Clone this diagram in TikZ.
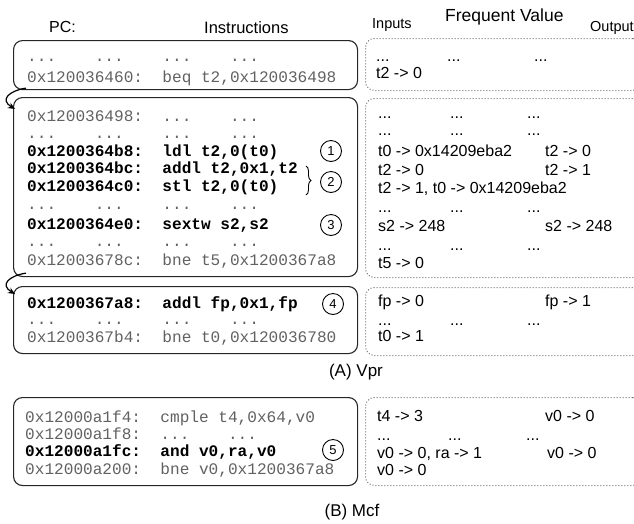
\documentclass[tikz,border=0pt]{standalone}
\usepackage{fontspec}
\setmainfont{Liberation Sans}
\newfontfamily\codefont{Liberation Mono}
\usetikzlibrary{arrows.meta,positioning,calc,decorations.pathreplacing}

\tikzset{
  pcbox/.style={draw=black!85, line width=1.1pt, rounded corners=9pt, minimum width=344pt, anchor=north west, inner sep=0pt},
  fvbox/.style={draw=black!55, dotted, line width=1pt, rounded corners=9pt, minimum width=276pt, anchor=north west, inner sep=0pt},
  instr/.style={anchor=base west, inner sep=0pt, text=black!62, font=\codefont\fontsize{16.1}{18}\selectfont},
  hot/.style={instr, text=black, font=\codefont\bfseries\fontsize{16.1}{18}\selectfont},
  fv/.style={anchor=base west, inner sep=0pt, font=\fontsize{16}{18}\selectfont},
  head/.style={anchor=base west, inner sep=0pt, font=\fontsize{#1}{20}\selectfont},
  tag/.style={draw, circle, minimum size=21pt, inner sep=0pt, line width=0.9pt, font=\fontsize{13}{14}\selectfont},
  jump/.style={-{Stealth[length=7pt,width=6pt]}, line width=1.2pt},
  caption/.style={anchor=base, inner sep=0pt, font=\fontsize{17}{20}\selectfont},
}

\begin{document}
\begin{tikzpicture}[x=1pt, y=-1pt]
    \useasboundingbox (0,0) rectangle (634,523);

    % column heads
    \node[head=16] (hpc) at (49,32) {PC:};
    \node[head=16.5] (hins) at (204,33) {Instructions};
    \node[head=17.5] (hfv) at (445,21) {Frequent Value};
    \node[head=14.5] (hin) at (372,28) {Inputs};
    \node[head=14.5] (hout) at (590,31) {Output};

    % boxes
    \node[pcbox, minimum height=49pt] (pc1) at (13,40) {};
    \node[pcbox, minimum height=179pt] (pc2) at (13,97) {};
    \node[pcbox, minimum height=67pt] (pc3) at (13,286) {};
    \node[pcbox, minimum height=88pt] (pc4) at (13,397) {};
    \node[fvbox, minimum height=52pt] (fv1) at (365,38) {};
    \node[fvbox, minimum height=179pt] (fv2) at (365,98) {};
    \node[fvbox, minimum height=68pt] (fv3) at (365,287) {};
    \node[fvbox, minimum height=88pt] (fv4) at (365,397) {};

    % (A) Vpr, code
    \node[instr] (a1) at (27,61) {...~~~~...~~~~...~~~~...};
    \node[instr] (a2) at (27,82.5) {0x120036460:~~beq t2,0x120036498};

    \node[instr] (b1) at (27,121) {0x120036498:~~...~~~~...};
    \node[instr] (b2) at (27,138) {...~~~~...~~~~...~~~~...};
    \node[hot] (b3) at (27,156) {0x1200364b8:~~ldl t2,0(t0)};
    \node[hot] (b4) at (27,173) {0x1200364bc:~~addl t2,0x1,t2};
    \node[hot] (b5) at (27,191) {0x1200364c0:~~stl t2,0(t0)};
    \node[instr] (b6) at (27,209) {...~~~~...~~~~...~~~~...};
    \node[hot] (b7) at (27,229) {0x1200364e0:~~sextw s2,s2};
    \node[instr] (b8) at (27,246) {...~~~~...~~~~...~~~~...};
    \node[instr] (b9) at (27,265) {0x12003678c:~~bne t5,0x1200367a8};

    \node[hot] (c1) at (27,308.5) {0x1200367a8:~~addl fp,0x1,fp};
    \node[instr] (c2) at (27,324.5) {...~~~~...~~~~...~~~~...};
    \node[instr] (c3) at (27,342) {0x1200367b4:~~bne t0,0x120036780};

    % (B) Mcf, code
    \node[instr] (d1) at (25,422) {0x12000a1f4:~~cmple t4,0x64,v0};
    \node[instr] (d2) at (25,439) {0x12000a1f8:~~...~~~~...};
    \node[hot] (d3) at (25,456.5) {0x12000a1fc:~~and v0,ra,v0};
    \node[instr] (d4) at (25,474) {0x12000a200:~~bne v0,0x1200367a8};

    % numbered marks
    \node[tag] (n1) at (331,151) {1};
    \node[tag] (n2) at (331,182) {2};
    \node[tag] (n3) at (331,225) {3};
    \node[tag] (n4) at (333,304) {4};
    \node[tag] (n5) at (333,450) {5};
    \coordinate (brtop) at (306,166);
    \coordinate (brbot) at (306,195);
    \draw[decorate, decoration={brace, amplitude=5pt}, line width=0.9pt] (brtop) -- (brbot);

    % frequent values
    \node[fv] (e1) at (376,61) {...};
    \node[fv] (e2) at (447,61) {...};
    \node[fv] (e3) at (534,61) {...};
    \node[fv] (e4) at (376,78) {t2 -> 0};

    \node[fv] (f1) at (378,118) {...};
    \node[fv] (f2) at (450,118) {...};
    \node[fv] (f3) at (527,118) {...};
    \node[fv] (f4) at (378,135) {...};
    \node[fv] (f5) at (450,135) {...};
    \node[fv] (f6) at (527,135) {...};
    \node[fv] (f7) at (378,156) {t0 -> 0x14209eba2};
    \node[fv] (f8) at (545,156) {t2 -> 0};
    \node[fv] (f9) at (378,175) {t2 -> 0};
    \node[fv] (f10) at (545,175) {t2 -> 1};
    \node[fv] (f11) at (378,193) {t2 -> 1, t0 -> 0x14209eba2};
    \node[fv] (f12) at (378,212) {...};
    \node[fv] (f13) at (450,212) {...};
    \node[fv] (f14) at (527,212) {...};
    \node[fv] (f15) at (378,231) {s2 -> 248};
    \node[fv] (f16) at (545,231) {s2 -> 248};
    \node[fv] (f17) at (378,250) {...};
    \node[fv] (f18) at (450,250) {...};
    \node[fv] (f19) at (527,250) {...};
    \node[fv] (f20) at (378,268) {t5 -> 0};

    \node[fv] (g1) at (378,306) {fp -> 0};
    \node[fv] (g2) at (545,306) {fp -> 1};
    \node[fv] (g3) at (378,325) {...};
    \node[fv] (g4) at (450,325) {...};
    \node[fv] (g5) at (527,325) {...};
    \node[fv] (g6) at (378,341) {t0 -> 1};

    \node[fv] (h1) at (377,421) {t4 -> 3};
    \node[fv] (h2) at (545,421) {v0 -> 0};
    \node[fv] (h3) at (377,440) {...};
    \node[fv] (h4) at (448,440) {...};
    \node[fv] (h5) at (526,440) {...};
    \node[fv] (h6) at (377,458) {v0 -> 0, ra -> 1};
    \node[fv] (h7) at (547,458) {v0 -> 0};
    \node[fv] (h8) at (377,475) {v0 -> 0};

    % captions
    \node[caption] (capa) at (356,376) {(A) Vpr};
    \node[caption] (capb) at (352,516) {(B) Mcf};

    % branch jumps
    \coordinate (j1from) at ([shift={(13,-2)}]pc1.south west);
    \coordinate (j1to) at ([shift={(2,12)}]pc2.north west);
    \coordinate (j2from) at ([shift={(13,-4)}]pc2.south west);
    \coordinate (j2to) at ([shift={(2,8)}]pc3.north west);
    \draw[jump] (j1from) .. controls +(-18,3) and +(-15,-9) .. (j1to);
    \draw[jump] (j2from) .. controls +(-18,3) and +(-15,-9) .. (j2to);
\end{tikzpicture}
\end{document}
